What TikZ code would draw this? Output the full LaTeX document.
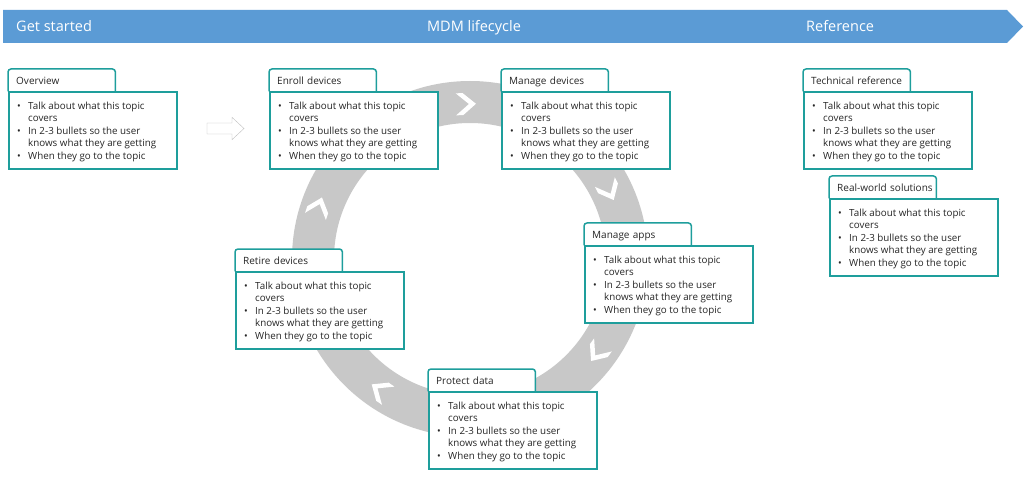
\documentclass[tikz,border=0pt]{standalone}
\usepackage{fontspec}
\setmainfont{Open Sans}
\usetikzlibrary{positioning}

\definecolor{bannerblue}{RGB}{91,155,213}
\definecolor{cardteal}{RGB}{30,158,156}
\definecolor{ringgray}{RGB}{200,200,200}
\definecolor{arrowgray}{RGB}{191,191,191}
\definecolor{textdark}{RGB}{38,38,38}

\tikzset{
  topictab/.style={anchor=north west, fill=white, minimum height=22pt,
    text width=91pt, inner xsep=8pt, inner ysep=0pt, align=left,
    text height=9pt, text depth=0pt, text=textdark,
    font=\fontsize{10}{12}\selectfont},
  topicline/.style={draw=cardteal, line width=1.5pt},
  topicbody/.style={topicline, anchor=north west, fill=white,
    minimum width=168pt, minimum height=77pt, inner sep=0pt},
  topictext/.style={anchor=north west, inner sep=0pt, text=textdark,
    font=\fontsize{9.8}{12.5}\selectfont},
  bannertext/.style={text=white, inner sep=0pt, font=\fontsize{14.5}{17}\selectfont}
}

\newcommand{\topicbullets}{%
  \begin{tabular}{@{}p{11pt}@{}l@{}}
    \textbullet & Talk about what this topic\\
                & covers\\
    \textbullet & In 2-3 bullets so the user\\
                & knows what they are getting\\
    \textbullet & When they go to the topic
  \end{tabular}}

% one card: tab with title, box, bullet text
\newcommand{\topiccard}[3]{%
  \node[topictab] (#1tab) at (#2) {\mbox{#3}};
  \draw[topicline, rounded corners=3pt] (#1tab.south west) -- (#1tab.north west)
    -- (#1tab.north east) -- (#1tab.south east);
  \node[topicbody] (#1body) at (#1tab.south west) {};
  \node[topictext] (#1text) at ([xshift=9pt,yshift=-8.75pt]#1body.north west) {\topicbullets};
}

\begin{document}
\begin{tikzpicture}[x=1pt, y=1pt]
  \useasboundingbox (0,0) rectangle (1024,477);

  % banner
  \fill[bannerblue] (3,434) -- (1007,434) -- (1023,450.5) -- (1007,467) -- (3,467) -- cycle;
  \node[bannertext, anchor=base west] (getstarted) at (16,445.5) {Get started};
  \node[bannertext, anchor=base] (lifecycle) at (474,445.5) {MDM lifecycle};
  \node[bannertext, anchor=base west] (reference) at (806,445.5) {Reference};

  % lifecycle ring
  \fill[ringgray, even odd rule] (470,218) circle[radius=178] (470,218) circle[radius=136];
  \foreach \a/\r in {91.5/155, 26/155, -36.5/158, 235.5/159, 161/160}
    \fill[white, shift={(470,218)}, shift={(\a:\r)}, rotate=\a-90]
      (-10,11) -- (-3,11) -- (10,0) -- (-3,-11) -- (-10,-11) -- (3,0) -- cycle;

  % hollow arrow
  \draw[arrowgray, fill=white] (207,354) -- (232,354) -- (232,359.7) -- (244,348.5)
    -- (232,337.3) -- (232,343) -- (207,343) -- cycle;

  \topiccard{overview}{8,408}{Overview}
  \topiccard{enroll}{269,408}{Enroll devices}
  \topiccard{managedev}{501,408}{Manage devices}
  \topiccard{manageapps}{584,254}{Manage apps}
  \topiccard{protect}{428,108}{Protect data}
  \topiccard{retire}{235,228}{Retire devices}
  \topiccard{techref}{803,408}{Technical reference}
  \topiccard{realworld}{829,301}{Real-world solutions}
\end{tikzpicture}
\end{document}
